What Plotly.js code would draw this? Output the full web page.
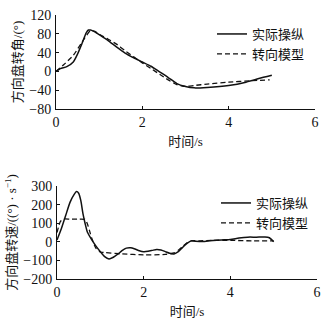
<!DOCTYPE html>
<html><head><meta charset="utf-8">
<script src="https://cdn.plot.ly/plotly-3.0.1.min.js"></script>
<style>html,body{margin:0;padding:0;background:#fff}#chart{width:333px;height:322px}</style>
</head><body><div id="chart"></div>
<script>
// Top chart: steering wheel angle (°)
const angleTime = [0, 0.1, 0.25, 0.4, 0.5, 0.6, 0.7, 0.75, 0.8, 0.9, 1.0, 1.2, 1.4, 1.6, 1.8, 2.0, 2.2, 2.4, 2.6, 2.8, 3.0, 3.2, 3.5, 4.0, 4.4, 4.7, 5.0];
const angleActual = [0, 6, 10, 20, 37, 59, 82, 88, 88, 84, 78, 66, 52, 39, 29, 20, 11, -1, -13, -26, -32, -35, -34, -30, -23, -15, -8];
const angleModelTime = [0, 0.2, 0.4, 0.6, 0.75, 0.8, 0.9, 1.0, 1.2, 1.4, 1.6, 1.8, 2.0, 2.2, 2.4, 2.6, 2.8, 3.0, 3.2, 3.5, 4.0, 4.5, 4.95];
const angleModel = [0, 16, 34, 62, 82, 87, 85, 79, 69, 58, 44, 31, 18, 6, -6, -18, -28, -32, -30, -27, -23, -20, -18];

// Bottom chart: steering wheel rate (°/s)
const rateTime = [0, 0.1, 0.2, 0.3, 0.4, 0.45, 0.5, 0.55, 0.6, 0.65, 0.7, 0.8, 0.9, 1.0, 1.1, 1.2, 1.3, 1.4, 1.5, 1.6, 1.7, 1.8, 1.9, 2.0, 2.1, 2.2, 2.3, 2.4, 2.5, 2.6, 2.7, 2.8, 2.9, 3.0, 3.1, 3.2, 3.4, 3.6, 3.8, 4.0, 4.2, 4.4, 4.6, 4.8, 4.9, 5.0];
const rateActual = [10, 70, 141, 212, 256, 270, 261, 221, 150, 97, 53, 12, -23, -53, -80, -92, -83, -67, -48, -34, -32, -39, -48, -53, -51, -46, -41, -44, -53, -62, -65, -53, -30, -9, 5, 3, 2, 7, 10, 12, 20, 25, 25, 26, 22, 0];
const rateModelTime = [0, 0.08, 0.15, 0.3, 0.5, 0.65, 0.7, 0.75, 0.8, 0.9, 1.0, 1.1, 1.5, 2.0, 2.5, 2.7, 2.8, 2.9, 3.0, 3.1, 3.3, 3.6, 4.0, 4.5, 5.0];
const rateModel = [50, 110, 122, 122, 122, 120, 97, 60, 20, -35, -55, -58, -65, -70, -68, -60, -45, -25, -5, 5, 5, 8, 8, 5, 5];

const seriesNames = ['实际操纵', '转向模型'];
const timeTicks = [0, 2, 4, 6];
const angleTicks = [-80, -40, 0, 40, 80, 120];
const rateTicks = [-200, -100, 0, 100, 200, 300];

const FONT = 'Liberation Serif, "Noto Sans CJK SC", serif';
const ink = '#111';

const solid = {color: ink, width: 1.5, dash: 'solid', shape: 'spline', smoothing: 0.6};
const dashed = {color: ink, width: 1.3, dash: '5px,3px', shape: 'spline', smoothing: 0.6};

const traces = [
  {x: angleTime, y: angleActual, name: seriesNames[0], mode: 'lines', line: solid, xaxis: 'x', yaxis: 'y', legend: 'legend'},
  {x: angleModelTime, y: angleModel, name: seriesNames[1], mode: 'lines', line: dashed, xaxis: 'x', yaxis: 'y', legend: 'legend'},
  {x: rateTime, y: rateActual, name: seriesNames[0], mode: 'lines', line: solid, xaxis: 'x2', yaxis: 'y2', legend: 'legend2'},
  {x: rateModelTime, y: rateModel, name: seriesNames[1], mode: 'lines', line: dashed, xaxis: 'x2', yaxis: 'y2', legend: 'legend2'}
];

function xax(domain, anchor) {
  return {domain: domain, anchor: anchor, range: [0, 6], tickvals: timeTicks, ticks: 'inside', ticklen: 3,
    tickcolor: ink, showline: true, linecolor: ink, linewidth: 1, showgrid: false, zeroline: false,
    tickfont: {family: FONT, size: 14, color: ink},
    title: {text: '时间/s', font: {family: FONT, size: 13, color: ink}, standoff: 8}};
}
function yax(domain, anchor, range, ticks, title) {
  return {domain: domain, anchor: anchor, range: range, tickvals: ticks, ticks: 'inside', ticklen: 3,
    tickcolor: ink, showline: true, linecolor: ink, linewidth: 1, showgrid: false, zeroline: false,
    tickfont: {family: FONT, size: 14, color: ink}, ticklabelstandoff: 1,
    title: {text: title, font: {family: FONT, size: 13, color: ink}, standoff: 3}};
}

const layout = {
  width: 333, height: 322,
  margin: {l: 0, r: 0, t: 0, b: 0},
  paper_bgcolor: '#fff', plot_bgcolor: '#fff',
  showlegend: true,
  xaxis: xax([56/333, 315/333], 'y'),
  yaxis: yax([1 - 109/322, 1 - 15/322], 'x', [-80, 120], angleTicks, '方向盘转角/(°)'),
  xaxis2: xax([57/333, 317/333], 'y2'),
  yaxis2: yax([1 - 279/322, 1 - 186/322], 'x2', [-200, 300], rateTicks, '方向盘转速/((°) · s<sup>−1</sup>)'),
  legend: {x: 212/333, y: 1 - 19/322, xanchor: 'left', yanchor: 'top', bgcolor: 'rgba(0,0,0,0)',
    font: {family: FONT, size: 13, color: ink}, tracegroupgap: 0, itemwidth: 30},
  legend2: {x: 216/333, y: 1 - 188/322, xanchor: 'left', yanchor: 'top', bgcolor: 'rgba(0,0,0,0)',
    font: {family: FONT, size: 13, color: ink}, tracegroupgap: 0, itemwidth: 30}
};

Plotly.newPlot('chart', traces, layout, {displayModeBar: false, staticPlot: true});
</script>
</body></html>
